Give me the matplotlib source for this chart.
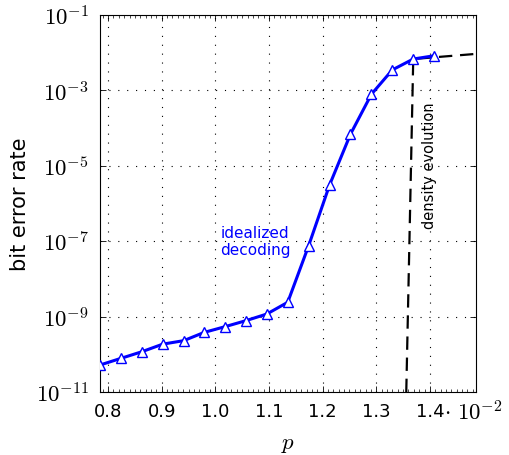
import matplotlib
matplotlib.use("Agg")
import matplotlib.pyplot as plt
from matplotlib.ticker import FixedLocator, NullFormatter

plt.rcParams['mathtext.fontset'] = 'cm'
plt.rcParams['font.family'] = ['DejaVu Sans']

# idealized decoding, simulated points (p in units of 1e-2)
p_sim = [0.785, 0.824, 0.863, 0.902, 0.941, 0.979, 1.018, 1.057, 1.096,
         1.135, 1.174, 1.213, 1.252, 1.291, 1.330, 1.369, 1.408]
ber_sim = [5.2e-11, 7.8e-11, 1.17e-10, 1.86e-10, 2.3e-10, 3.8e-10, 5.4e-10,
           7.8e-10, 1.17e-9, 2.4e-9, 7.6e-8, 3.1e-6, 6.9e-5, 7.9e-4,
           3.5e-3, 6.8e-3, 8.3e-3]

# density evolution threshold curve
p_de = [1.356, 1.369, 1.486]
ber_de = [1e-11, 6.8e-3, 9.3e-3]

x_ticks = [0.8, 0.9, 1.0, 1.1, 1.2, 1.3, 1.4]
x_ticklabels = ['0.8', '0.9', '1.0', '1.1', '1.2', '1.3', '1.4']
y_exps = [-11, -9, -7, -5, -3, -1]

fig = plt.figure(figsize=(5.10, 4.56), dpi=100)
ax = fig.add_axes([100/510, 63/456, 376/510, 377/456])

ax.plot(p_de, ber_de, color='black', lw=1.6, dashes=(6, 3.5), zorder=3)
ax.plot(p_sim, ber_sim, color='#0000ff', lw=2.2, marker='^', markersize=7,
        markerfacecolor='white', markeredgecolor='#0000ff', markeredgewidth=1.0,
        zorder=4)

ax.set_yscale('log')
ax.set_xlim(0.785, 1.486)
ax.set_ylim(1e-11, 1e-1)

ax.set_xticks(x_ticks)
ax.set_xticklabels(x_ticklabels)
ax.xaxis.set_minor_locator(FixedLocator([0.79 + 0.01 * i for i in range(70)]))
ax.set_yticks([10.0 ** e for e in y_exps])
ax.set_yticklabels([r'$10^{%d}$' % e for e in y_exps])
ax.yaxis.set_minor_locator(FixedLocator([]))
ax.yaxis.set_minor_formatter(NullFormatter())

ax.tick_params(axis='both', which='major', direction='in', length=4, width=0.6,
               top=True, right=True)
ax.tick_params(axis='x', which='minor', direction='in', length=2, width=0.5,
               top=True, bottom=True)
ax.tick_params(axis='x', which='major', labelsize=13, pad=7)
ax.tick_params(axis='y', which='major', labelsize=16.5, pad=8)

ax.grid(True, which='major', color='black', lw=0.8, linestyle=(0, (1, 7)))
for s in ax.spines.values():
    s.set_linewidth(0.8)

ax.set_xlabel(r'$p$', fontsize=16.5, labelpad=8)
ax.set_ylabel('bit error rate', fontsize=15, labelpad=4)

# scale factor of the p axis, next to the last tick label
fig.text(444/510, 35/456, r'$\cdot\ 10^{-2}$', fontsize=16.5, ha='left',
         va='baseline')

ax.text(1.074, 10 ** -7.0, 'idealized\ndecoding', color='#0000ff', fontsize=11,
        ha='center', va='center', multialignment='center', linespacing=1.15)
ax.text(1.3996, 10 ** -4.98, 'density evolution', color='black', fontsize=10.5,
        rotation=90, ha='center', va='center')

fig.savefig('out.png', dpi=100)
